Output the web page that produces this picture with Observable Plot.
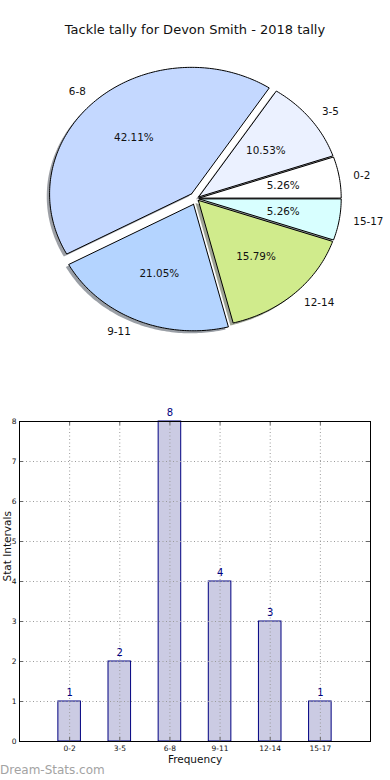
<!DOCTYPE html>
<html>
<head>
<meta charset="utf-8">
<script src="https://cdn.jsdelivr.net/npm/d3@7"></script>
<script src="https://cdn.jsdelivr.net/npm/@observablehq/plot@0.6"></script>
<style>
  html, body { margin: 0; padding: 0; background: #fff; }
  body { width: 390px; height: 780px; position: relative; overflow: hidden; font-family: "DejaVu Sans", sans-serif; }
  #title { position: absolute; top: 22px; left: 0; width: 390px; text-align: center; font-size: 13px; line-height: 16px; color: #111; }
  #pie { position: absolute; top: 60px; left: 0; }
  #bar { position: absolute; top: 400px; left: 0; }
  #wm { position: absolute; top: 762px; left: 0; font-size: 12px; line-height: 16px; color: #a3a3a3; }
  svg { overflow: visible; }
</style>
</head>
<body>
<div id="title">Tackle tally for Devon Smith - 2018 tally</div>
<div id="pie"></div>
<div id="bar"></div>
<div id="wm">Dream-Stats.com</div>
<script>
const categories = ["0-2", "3-5", "6-8", "9-11", "12-14", "15-17"];
const counts = [1, 2, 8, 4, 3, 1];
const pieColors = ["#ffffff", "#ebf1ff", "#c4d8ff", "#b4d4ff", "#d0eb8c", "#d8ffff"];
const explode = [0.02, 0.02, 0.05, 0.05, 0.02, 0.02];
const yTicks = [0, 1, 2, 3, 4, 5, 6, 7, 8];

const total = d3.sum(counts);
const FONT = "DejaVu Sans";

// ---- pie geometry (data units, unit radius) ----
let acc = 0;
const slices = categories.map((c, i) => {
  const a1 = acc / total * 2 * Math.PI;
  acc += counts[i];
  const a2 = acc / total * 2 * Math.PI;
  const mid = (a1 + a2) / 2;
  const ox = explode[i] * Math.cos(mid), oy = explode[i] * Math.sin(mid);
  return {
    i, cat: c, a1, a2, mid, ox, oy, color: pieColors[i],
    pct: (counts[i] / total * 100).toFixed(2) + "%",
    lx: ox + 1.1 * Math.cos(mid), ly: oy + 1.1 * Math.sin(mid),
    px: ox + 0.6 * Math.cos(mid), py: oy + 0.6 * Math.sin(mid)
  };
});
function wedge(s, dx, dy) {
  const pts = [{x: s.ox + dx, y: s.oy + dy}];
  const n = Math.max(8, Math.ceil((s.a2 - s.a1) / (Math.PI / 180)));
  for (let k = 0; k <= n; k++) {
    const t = s.a1 + (s.a2 - s.a1) * k / n;
    pts.push({x: s.ox + dx + Math.cos(t), y: s.oy + dy + Math.sin(t)});
  }
  pts.push({x: s.ox + dx, y: s.oy + dy});
  return pts;
}
const shadowColor = c => { const r = d3.rgb(c); return d3.rgb(r.r * 0.3, r.g * 0.3, r.b * 0.3).formatHex(); };

const cx = 195.9, cy = 138, rx = 142, ry = 126.5;
const pie = Plot.plot({
  width: 390, height: 330,
  margin: 0,
  x: {domain: [-1, 1], range: [cx - rx, cx + rx], axis: null},
  y: {domain: [-1, 1], range: [cy + ry, cy - ry], axis: null},
  style: {fontFamily: FONT, background: "transparent"},
  marks: [
    ...slices.map(s => Plot.line(wedge(s, -0.02, -0.02), {x: "x", y: "y", fill: shadowColor(s.color), fillOpacity: 0.5, stroke: "none"})),
    ...slices.map(s => Plot.line(wedge(s, 0, 0), {x: "x", y: "y", fill: s.color, stroke: "#000", strokeWidth: 1, strokeLinejoin: "miter"})),
    Plot.text(slices.filter(s => Math.cos(s.mid) >= 0), {x: "lx", y: "ly", text: "cat", textAnchor: "start", fontSize: 10.4, fill: "#111"}),
    Plot.text(slices.filter(s => Math.cos(s.mid) < 0), {x: "lx", y: "ly", text: "cat", textAnchor: "end", fontSize: 10.4, fill: "#111"}),
    Plot.text(slices, {x: "px", y: "py", text: "pct", fontSize: 10.4, fill: "#111"})
  ]
});
document.getElementById("pie").appendChild(pie);

// ---- bar chart ----
const bars = categories.map((c, i) => ({i, cat: c, count: counts[i]}));
const idx = bars.map(d => d.i);
const gridStyle = {stroke: "#9a9a9a", strokeWidth: 1, strokeDasharray: "1,2.5"};
const tickStyle = {stroke: "#666", strokeWidth: 1};
const bar = Plot.plot({
  width: 390, height: 380,
  marginLeft: 19, marginRight: 20, marginTop: 21, marginBottom: 39,
  x: {type: "linear", domain: [-1, 6]},
  y: {type: "linear", domain: [0, 8]},
  style: {fontFamily: FONT, background: "transparent", color: "#111"},
  marks: [
    Plot.rect(bars, {x1: d => d.i - 0.225, x2: d => d.i + 0.225, y1: 0, y2: "count", fill: "#cbcbe3", stroke: "#000080", strokeWidth: 1}),
    Plot.ruleX(idx, {x: d => d, y1: 0, y2: 8, ...gridStyle}),
    Plot.ruleY(yTicks.slice(1, -1), {y: d => d, x1: -1, x2: 6, ...gridStyle}),
    Plot.ruleX(idx, {x: d => d, y1: 0, y2: 0.1, ...tickStyle}),
    Plot.ruleX(idx, {x: d => d, y1: 8, y2: 7.9, ...tickStyle}),
    Plot.ruleY(yTicks, {y: d => d, x1: -1, x2: -0.92, ...tickStyle}),
    Plot.ruleY(yTicks, {y: d => d, x1: 6, x2: 5.92, ...tickStyle}),
    Plot.frame({stroke: "#000", strokeWidth: 1}),
    Plot.axisX({ticks: idx, tickFormat: i => categories[i], tickSize: 0, tickPadding: 4, fontSize: 7.5, label: null}),
    Plot.axisY({ticks: yTicks, tickFormat: d => String(d), tickSize: 0, tickPadding: 3, fontSize: 7.5, label: null}),
    Plot.text(bars, {x: "i", y: "count", text: d => String(d.count), dy: -9, fill: "#000080", fontSize: 10}),
    Plot.text(["Frequency"], {frameAnchor: "bottom", dy: 21, text: d => d, fontSize: 10.5, fill: "#111"}),
    Plot.text(["Stat Intervals"], {frameAnchor: "left", dx: -12, rotate: -90, text: d => d, fontSize: 10.5, fill: "#111"})
  ]
});
document.getElementById("bar").appendChild(bar);
</script>
</body>
</html>
